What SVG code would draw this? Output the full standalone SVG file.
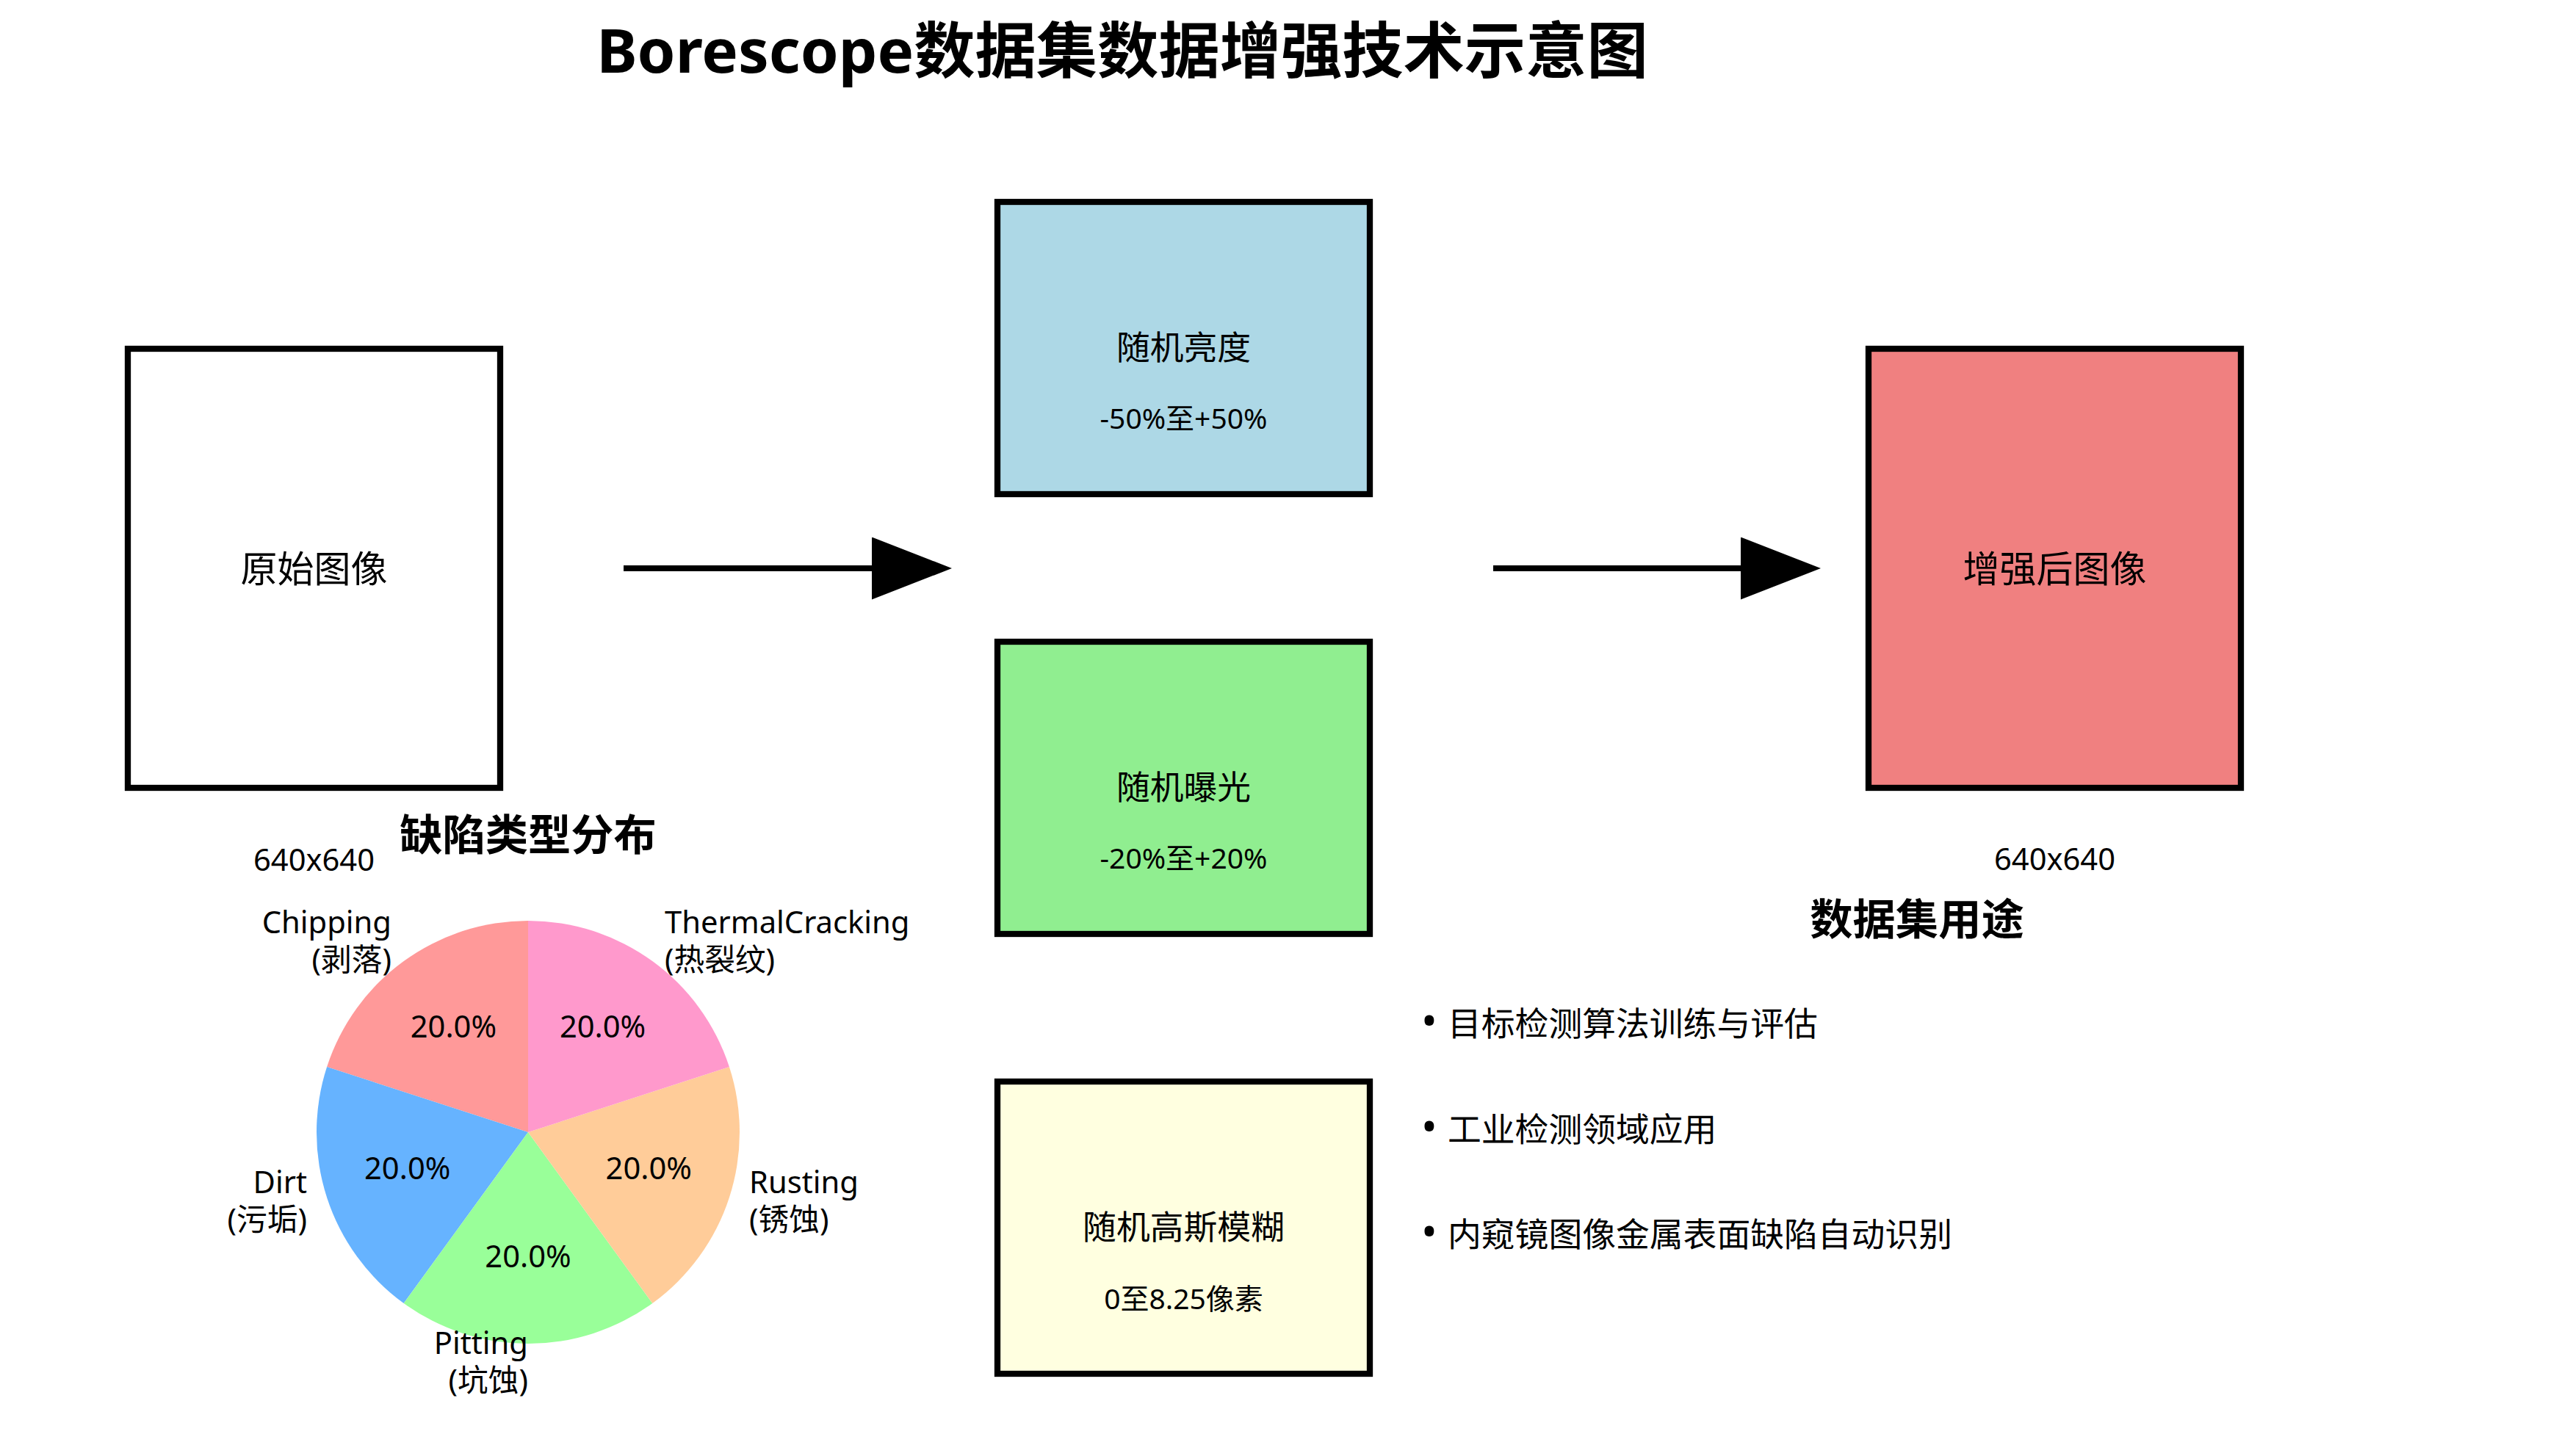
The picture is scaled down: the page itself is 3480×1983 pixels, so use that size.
<svg xmlns="http://www.w3.org/2000/svg" width="3480" height="1983" viewBox="0 0 3480 1983">
<defs>
<style>
text{font-family:"Noto Sans","Noto Sans CJK SC",sans-serif;fill:#000}
.box{stroke:#000;stroke-width:8.3}
.t50{font-size:50px;text-anchor:middle}
.t46{font-size:45.8px;text-anchor:middle}
.t37{font-size:39px;text-anchor:middle}
.t42{font-size:41.7px}
.b46{font-size:45.8px}
.mid{text-anchor:middle}
.end{text-anchor:end}
.h2{font-size:58.3px;font-weight:bold;text-anchor:middle}
.arrow{stroke:#000;stroke-width:8;fill:none}
</style>
<marker id="head" markerUnits="userSpaceOnUse" markerWidth="110" markerHeight="86" refX="0" refY="42.5" orient="auto">
<path d="M0,0 L109,42.5 L0,85 Z" fill="#000"/>
</marker>
</defs>
<rect width="3480" height="1983" fill="#fff"/>
<text x="1528" y="99" style="font-size:83.3px;font-weight:bold;text-anchor:middle">Borescope数据集数据增强技术示意图</text>

<g id="original">
<rect class="box" x="174" y="475" width="507" height="598" fill="#ffffff"/>
<text class="t50" x="427.5" y="793">原始图像</text>
<text class="t42 mid" x="427.5" y="1186">640x640</text>
</g>

<g id="brightness">
<rect class="box" x="1358" y="275" width="507" height="398" fill="#ADD8E6"/>
<text class="t46" x="1611.5" y="490">随机亮度</text>
<text class="t37" x="1611.5" y="584">-50%至+50%</text>
</g>

<g id="exposure">
<rect class="box" x="1358" y="874" width="507" height="398" fill="#90EE90"/>
<text class="t46" x="1611.5" y="1089">随机曝光</text>
<text class="t37" x="1611.5" y="1183">-20%至+20%</text>
</g>

<g id="blur">
<rect class="box" x="1358" y="1473" width="507" height="398" fill="#FFFFE0"/>
<text class="t46" x="1611.5" y="1688">随机高斯模糊</text>
<text class="t37" x="1611.5" y="1783">0至8.25像素</text>
</g>

<g id="augmented">
<rect class="box" x="2544" y="475" width="507" height="598" fill="#F08080"/>
<text class="t50" x="2797.5" y="793">增强后图像</text>
<text class="t42 mid" x="2797.5" y="1185">640x640</text>
</g>

<g id="connectors">
<line class="arrow" x1="849" y1="774" x2="1187" y2="774" marker-end="url(#head)"/>
<line class="arrow" x1="2033" y1="774" x2="2370" y2="774" marker-end="url(#head)"/>
</g>

<g id="defect-pie">
<text class="h2" x="719" y="1158">缺陷类型分布</text>
<path d="M719,1542 L719,1254 A288,288 0 0,0 445.1,1453 Z" fill="#ff9999"/>
<path d="M719,1542 L445.1,1453 A288,288 0 0,0 549.7,1775 Z" fill="#66b3ff"/>
<path d="M719,1542 L549.7,1775 A288,288 0 0,0 888.3,1775 Z" fill="#99ff99"/>
<path d="M719,1542 L888.3,1775 A288,288 0 0,0 992.9,1453 Z" fill="#ffcc99"/>
<path d="M719,1542 L992.9,1453 A288,288 0 0,0 719,1254 Z" fill="#ff99cc"/>
<text class="t42 mid" x="617.4" y="1413">20.0%</text>
<text class="t42 mid" x="554.7" y="1606">20.0%</text>
<text class="t42 mid" x="719" y="1726">20.0%</text>
<text class="t42 mid" x="883.3" y="1606">20.0%</text>
<text class="t42 mid" x="820.6" y="1413">20.0%</text>
<text class="t42 end" x="533"><tspan x="533" y="1271">Chipping</tspan><tspan x="533" y="1322">(剥落)</tspan></text>
<text class="t42 end" x="418"><tspan x="418" y="1625">Dirt</tspan><tspan x="418" y="1676">(污垢)</tspan></text>
<text class="t42 end" x="719"><tspan x="719" y="1844">Pitting</tspan><tspan x="719" y="1895">(坑蚀)</tspan></text>
<text class="t42" x="1020"><tspan x="1020" y="1625">Rusting</tspan><tspan x="1020" y="1676">(锈蚀)</tspan></text>
<text class="t42" x="905"><tspan x="905" y="1271">ThermalCracking</tspan><tspan x="905" y="1322">(热裂纹)</tspan></text>
</g>

<g id="usage">
<text class="h2" x="2610" y="1273">数据集用途</text>
<text class="b46" x="1935" y="1411"><tspan style="font-size:58px">•</tspan> <tspan x="1971">目标检测算法训练与评估</tspan></text>
<text class="b46" x="1935" y="1555"><tspan style="font-size:58px">•</tspan> <tspan x="1971">工业检测领域应用</tspan></text>
<text class="b46" x="1935" y="1698"><tspan style="font-size:58px">•</tspan> <tspan x="1971">内窥镜图像金属表面缺陷自动识别</tspan></text>
</g>
</svg>
